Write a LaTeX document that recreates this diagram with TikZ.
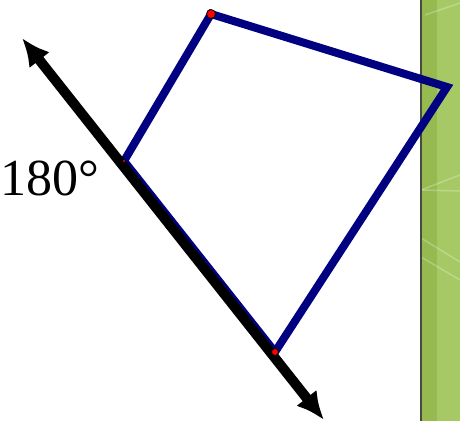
\documentclass[tikz,border=0pt]{standalone}
\usepackage{fontspec}
\setmainfont{Liberation Serif}
\usetikzlibrary{arrows.meta,positioning}
\definecolor{quadblue}{RGB}{0,0,128}
\definecolor{bardark}{RGB}{150,186,80}
\definecolor{barlight}{RGB}{166,201,102}
\definecolor{baredge}{RGB}{70,75,65}
\begin{document}
\begin{tikzpicture}[
  x=1pt, y=-1pt,
  side/.style   ={draw=quadblue, line width=8pt, line join=miter},
  ray/.style    ={{Latex[length=28pt,width=26pt]}-{Latex[length=28pt,width=26pt]}, line width=10pt},
  vertex/.style ={fill=red, draw=black, line width=0.8pt},
  gleam/.style  ={draw=white, opacity=0.25, line width=1.5pt},
  deg/.style    ={font=\fontsize{52}{62}\selectfont, inner sep=0pt, anchor=base west},
]
\useasboundingbox (0,0) rectangle (460,421);

% ---------------- green strip on the right ------------------------------
\fill[barlight] (421,0) rectangle (460,421);
\fill[bardark]  (421,0) rectangle (437,421);
\draw[gleam] (421,190) -- (460,175);
\draw[gleam] (421,238) -- (460,262);
\draw[gleam] (421,257) -- (460,280);
\draw[gleam] (421,190) -- (460,191);
\draw[gleam] (425,15) -- (460,3);
\draw[baredge, line width=1.5pt] (421,0) -- (421,421);

% ---------------- quadrilateral -----------------------------------------
\coordinate (top)   at (211,14);
\coordinate (right) at (447,87);
\coordinate (low)   at (275,352);
\coordinate (left)  at (124,161);
\draw[side] (top) -- (right) -- (low) -- (left) -- cycle;

% ---------------- straight angle line -----------------------------------
\coordinate (tipA) at (22,38);
\coordinate (tipB) at (324,420);
\draw[ray] (tipA) -- (tipB);

\node[deg] (angle) at (0,195) {180°};

% ---------------- vertex marks ------------------------------------------
\fill[vertex] (top) circle (4.5pt);
\fill[vertex] (low) circle (3.5pt);
\fill[red] (left) circle (1.2pt);
\end{tikzpicture}
\end{document}
